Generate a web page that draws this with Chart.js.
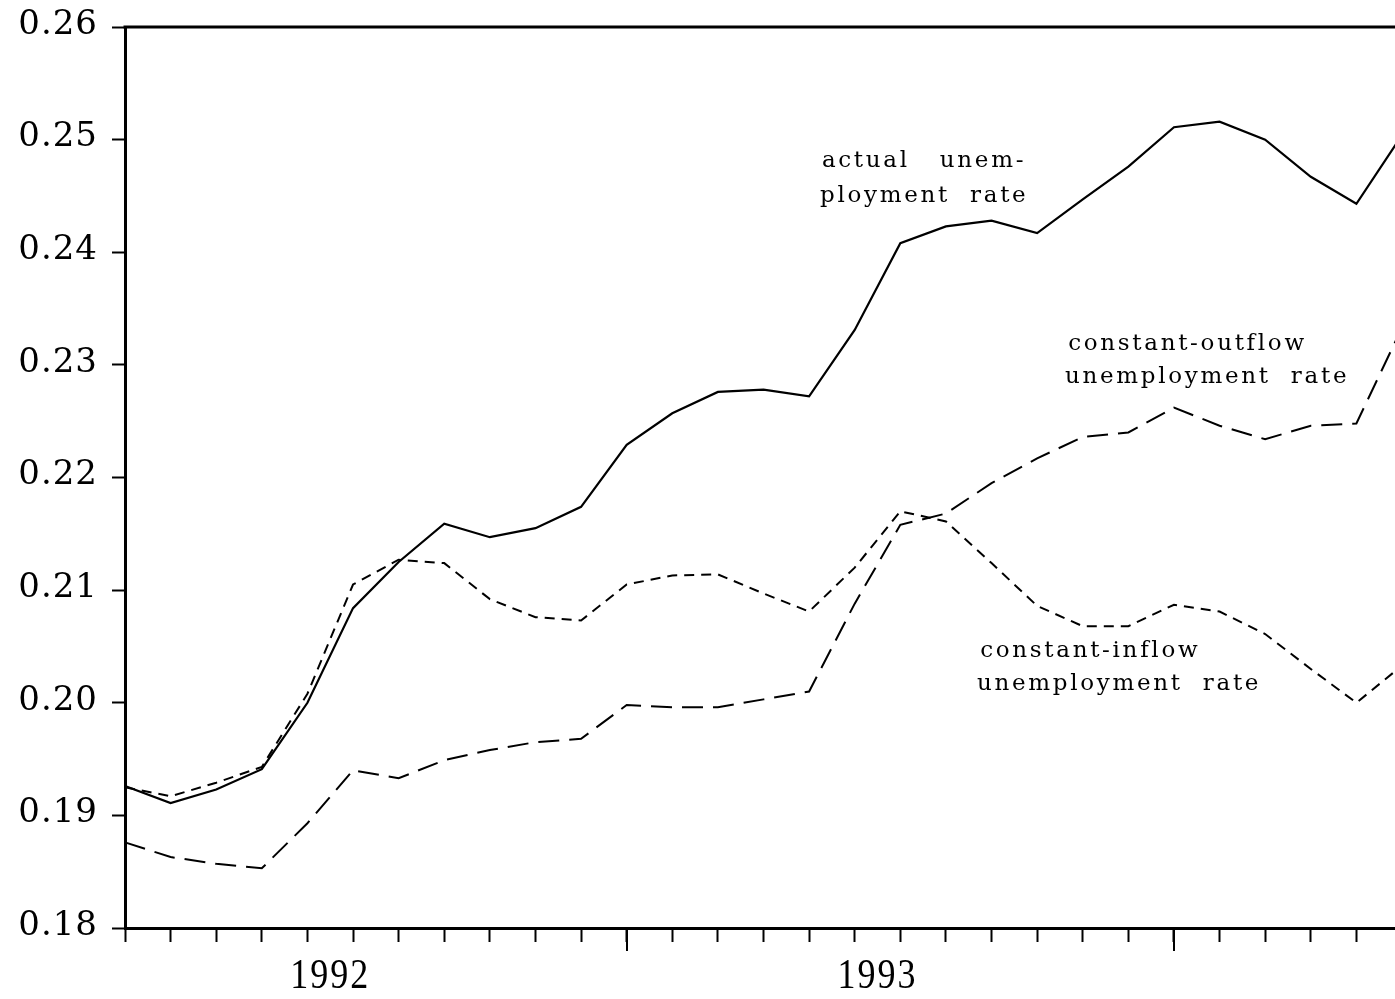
<!DOCTYPE html>
<html>
<head>
<meta charset="utf-8">
<script src="https://cdn.jsdelivr.net/npm/chart.js@4.4.0/dist/chart.umd.min.js"></script>
<style>
html, body { margin: 0; padding: 0; background: #fff; overflow: hidden; }
#wrap { position: relative; width: 1430px; height: 999px; }
</style>
</head>
<body>
<div id="wrap"><canvas id="chart"></canvas></div>
<script>
// Monthly observations, Feb 1992 .. Jun 1994 (last month runs past the right edge)
const months = [
    '1992-02', '1992-03', '1992-04', '1992-05', '1992-06', '1992-07', '1992-08',
    '1992-09', '1992-10', '1992-11', '1992-12',
    '1993-01', '1993-02', '1993-03', '1993-04', '1993-05', '1993-06', '1993-07',
    '1993-08', '1993-09', '1993-10', '1993-11', '1993-12',
    '1994-01', '1994-02', '1994-03', '1994-04', '1994-05', '1994-06'
];

const actualRate = [
    0.1926, 0.1911, 0.1923, 0.1941, 0.2000, 0.2084, 0.2125, 0.2159, 0.2147, 0.2155,
    0.2174, 0.2229, 0.2257, 0.2276, 0.2278, 0.2272, 0.2331, 0.2408, 0.2423, 0.2428,
    0.2417, 0.2447, 0.2476, 0.2511, 0.2516, 0.2500, 0.2467, 0.2443, 0.2504
];

const constantInflowRate = [
    0.1925, 0.1917, 0.1929, 0.1943, 0.2008, 0.2105, 0.2127, 0.2124, 0.2092, 0.2076,
    0.2073, 0.2105, 0.2113, 0.2114, 0.2097, 0.2081, 0.2120, 0.2170, 0.2161, 0.2124,
    0.2086, 0.2068, 0.2068, 0.2087, 0.2081, 0.2061, 0.2030, 0.2000, 0.2033
];

const constantOutflowRate = [
    0.1876, 0.1863, 0.1857, 0.1853, 0.1893, 0.1940, 0.1933, 0.1949, 0.1958, 0.1965,
    0.1968, 0.1998, 0.1996, 0.1996, 0.2003, 0.2010, 0.2088, 0.2158, 0.2168, 0.2195,
    0.2217, 0.2236, 0.2240, 0.2262, 0.2246, 0.2234, 0.2246, 0.2248, 0.2333
];

const yMin = 0.18;
const yMax = 0.26;
const yStep = 0.01;

const yearLabels = ['1992', '1993'];

// Curve labels, anchored in data units (month index, rate) at the text baseline
const noteLines = [
    { text: 'actual   unem-', x: 15.28, y: 0.24757 },
    { text: 'ployment  rate', x: 15.24, y: 0.24446 },
    { text: 'constant-outflow', x: 20.68, y: 0.23132 },
    { text: 'unemployment  rate', x: 20.61, y: 0.22839 },
    { text: 'constant-inflow', x: 18.75, y: 0.20406 },
    { text: 'unemployment  rate', x: 18.68, y: 0.20113 }
];

const serif = '"Liberation Serif", "Times New Roman", serif';
const wideSerif = '"DejaVu Serif", serif';

// Frame, long January ticks, year labels and curve notes
const decorations = {
    id: 'decorations',
    beforeDraw(chart) {
        chart.ctx.letterSpacing = '1px';
    },
    afterDraw(chart) {
        const { ctx, chartArea: area, scales: { x, y } } = chart;
        ctx.save();
        ctx.strokeStyle = '#000';
        ctx.fillStyle = '#000';

        // top and right side of the frame
        ctx.lineWidth = 3;
        ctx.beginPath();
        ctx.moveTo(area.left - 1.5, area.top);
        ctx.lineTo(area.right, area.top);
        ctx.lineTo(area.right, area.bottom);
        ctx.stroke();

        // January ticks are longer
        ctx.lineWidth = 2;
        months.forEach((m, i) => {
            if (m.endsWith('-01')) {
                const px = Math.round(x.getPixelForValue(i));
                ctx.beginPath();
                ctx.moveTo(px, area.bottom);
                ctx.lineTo(px, area.bottom + 23);
                ctx.stroke();
            }
        });

        // year labels centred on the middle of each year
        ctx.font = '36px ' + serif;
        ctx.letterSpacing = '2px';
        ctx.textAlign = 'center';
        ctx.textBaseline = 'alphabetic';
        yearLabels.forEach(year => {
            const first = months.findIndex(m => m.startsWith(year));
            const janIndex = first - (parseInt(months[first].slice(5), 10) - 1);
            const px = x.getPixelForValue(janIndex + 5.5);
            ctx.save();
            ctx.translate(px, 988);
            ctx.scale(1, 1.2);
            ctx.fillText(year, 0, 0);
            ctx.restore();
        });

        // curve notes
        ctx.font = '23px ' + wideSerif;
        ctx.letterSpacing = '2.7px';
        ctx.textAlign = 'left';
        noteLines.forEach(n => {
            ctx.fillText(n.text, x.getPixelForValue(n.x), y.getPixelForValue(n.y));
        });

        ctx.restore();
    }
};

const ctx = document.getElementById('chart').getContext('2d');

new Chart(ctx, {
    type: 'line',
    data: {
        labels: months,
        datasets: [
            {
                label: 'actual unemployment rate',
                data: actualRate,
                borderColor: '#000',
                borderWidth: 2.2,
                pointRadius: 0,
                tension: 0,
                fill: false
            },
            {
                label: 'constant-inflow unemployment rate',
                data: constantInflowRate,
                borderColor: '#000',
                borderWidth: 2,
                borderDash: [10, 7],
                pointRadius: 0,
                tension: 0,
                fill: false
            },
            {
                label: 'constant-outflow unemployment rate',
                data: constantOutflowRate,
                borderColor: '#000',
                borderWidth: 2,
                borderDash: [21, 10],
                pointRadius: 0,
                tension: 0,
                fill: false
            }
        ]
    },
    options: {
        responsive: true,
        maintainAspectRatio: false,
        animation: false,
        layout: {
            autoPadding: false,
            padding: { top: 27, right: 28, left: 0, bottom: 0 }
        },
        plugins: {
            legend: { display: false },
            tooltip: { enabled: false }
        },
        scales: {
            x: {
                type: 'category',
                offset: false,
                border: { display: true, color: '#000', width: 3 },
                grid: {
                    display: true,
                    drawOnChartArea: false,
                    drawTicks: true,
                    tickLength: 14,
                    tickWidth: 2,
                    tickColor: '#000'
                },
                ticks: { display: false, autoSkip: false },
                afterFit: scale => { scale.height = 71; }
            },
            y: {
                min: yMin,
                max: yMax,
                border: { display: true, color: '#000', width: 3 },
                grid: {
                    display: true,
                    drawOnChartArea: false,
                    drawTicks: true,
                    tickLength: 13,
                    tickWidth: 2,
                    tickColor: '#000'
                },
                ticks: {
                    stepSize: yStep,
                    color: '#000',
                    padding: 14,
                    labelOffset: -2,
                    font: { family: wideSerif, size: 34 },
                    callback: v => v.toFixed(2)
                },
                afterFit: scale => {
                    scale.width = 125;
                    // the frame top is fixed by the layout padding, not the labels
                    scale.paddingTop = 0;
                    scale.paddingBottom = 0;
                }
            }
        }
    },
    plugins: [decorations]
});
</script>
</body>
</html>
